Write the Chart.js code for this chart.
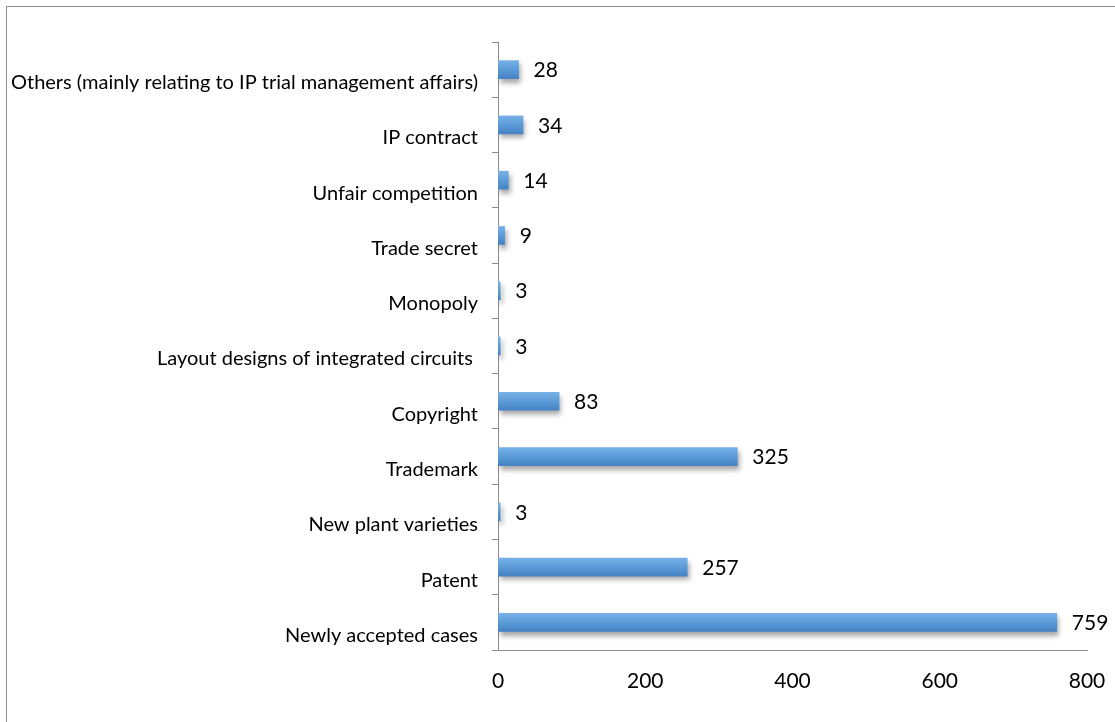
<!DOCTYPE html>
<html lang="en">
<head>
    <meta charset="UTF-8">
    <title>IP Cases</title>
    <script src="https://cdn.jsdelivr.net/npm/chart.js"></script>
    <style>
        body {
            margin: 0;
            padding: 0;
            background: white;
        }
        .chart-container {
            width: 1115px;
            height: 722px;
        }
    </style>
</head>
<body>
    <div class="chart-container">
        <canvas id="casesChart"></canvas>
    </div>

    <script>
        const categories = [
            'Others (mainly relating to IP trial management affairs)',
            'IP contract',
            'Unfair competition',
            'Trade secret',
            'Monopoly',
            'Layout designs of integrated circuits ',
            'Copyright',
            'Trademark',
            'New plant varieties',
            'Patent',
            'Newly accepted cases'
        ];
        const caseCounts = [28, 34, 14, 9, 3, 3, 83, 325, 3, 257, 759];
        const xTicks = [0, 200, 400, 600, 800];

        const fontFamily = "Lato, 'Open Sans', sans-serif";
        const BAR_H = 18;

        // outer frame around the whole chart
        const framePlugin = {
            id: 'frame',
            beforeDraw(chart) {
                const ctx = chart.ctx;
                ctx.save();
                ctx.strokeStyle = '#8c8c8c';
                ctx.lineWidth = 1;
                ctx.strokeRect(6.5, 6.5, chart.width + 10, chart.height + 10);
                ctx.restore();
            }
        };

        // soft drop shadow under the bars
        const shadowPlugin = {
            id: 'barShadow',
            beforeDatasetDraw(chart) {
                const ctx = chart.ctx;
                ctx.save();
                ctx.shadowColor = 'rgba(0, 0, 0, 0.35)';
                ctx.shadowBlur = 5;
                ctx.shadowOffsetX = 2;
                ctx.shadowOffsetY = 4;
            },
            afterDatasetDraw(chart) {
                chart.ctx.restore();
            }
        };

        // value printed to the right of each bar
        const valueLabels = {
            id: 'valueLabels',
            afterDatasetsDraw(chart) {
                const ctx = chart.ctx;
                const meta = chart.getDatasetMeta(0);
                ctx.save();
                ctx.font = '21px ' + fontFamily;
                ctx.fillStyle = '#000';
                ctx.textAlign = 'left';
                ctx.textBaseline = 'middle';
                meta.data.forEach((bar, i) => {
                    ctx.fillText(String(caseCounts[i]), bar.x + 15, bar.y + 1);
                });
                ctx.restore();
            }
        };

        // vertical light-to-dark gradient per bar
        function barFill(c) {
            const yScale = c.chart.scales && c.chart.scales.y;
            if (!yScale || c.dataIndex === undefined) return '#5b9bd5';
            const cy = yScale.getPixelForValue(c.dataIndex);
            if (!isFinite(cy)) return '#5b9bd5';
            const g = c.chart.ctx.createLinearGradient(0, cy - BAR_H / 2, 0, cy + BAR_H / 2);
            g.addColorStop(0, '#78b0e6');
            g.addColorStop(0.5, '#5b9bd8');
            g.addColorStop(1, '#4682c4');
            return g;
        }

        const ctx = document.getElementById('casesChart').getContext('2d');
        new Chart(ctx, {
            type: 'bar',
            data: {
                labels: categories,
                datasets: [{
                    data: caseCounts,
                    backgroundColor: barFill,
                    borderWidth: 0,
                    barThickness: BAR_H
                }]
            },
            options: {
                indexAxis: 'y',
                responsive: true,
                maintainAspectRatio: false,
                animation: false,
                layout: {
                    padding: { top: 42, right: 28, left: 0, bottom: 0 }
                },
                plugins: {
                    legend: { display: false },
                    tooltip: { enabled: false }
                },
                scales: {
                    x: {
                        min: 0,
                        max: 800,
                        afterBuildTicks(scale) {
                            scale.ticks = xTicks.map(v => ({ value: v }));
                        },
                        afterFit(scale) {
                            scale.height = 72;
                            scale.paddingLeft = 0;
                            scale.paddingRight = 0;
                        },
                        grid: { display: false, drawTicks: false },
                        border: { display: true, color: '#8c8c8c', width: 1 },
                        ticks: {
                            color: '#000',
                            padding: 19,
                            font: { family: fontFamily, size: 21 }
                        }
                    },
                    y: {
                        afterFit(scale) {
                            scale.width = 498;
                        },
                        grid: {
                            drawOnChartArea: false,
                            offset: true,
                            tickLength: 6,
                            color: '#8c8c8c'
                        },
                        border: { display: true, color: '#8c8c8c', width: 1 },
                        ticks: {
                            color: '#000',
                            padding: 14,
                            labelOffset: 13,
                            font: { family: fontFamily, size: 20 }
                        }
                    }
                }
            },
            plugins: [framePlugin, shadowPlugin, valueLabels]
        });
    </script>
</body>
</html>
